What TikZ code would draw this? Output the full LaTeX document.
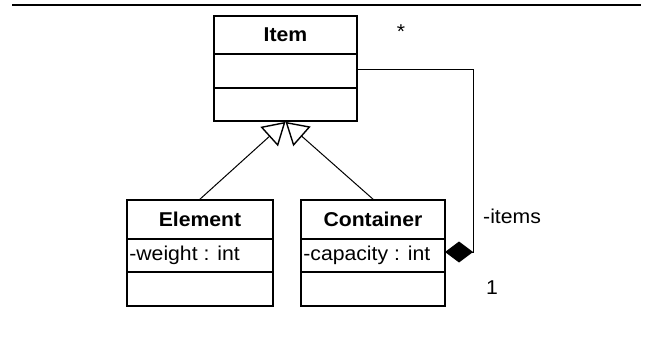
\documentclass[tikz,border=0pt]{standalone}
\usepackage{fontspec}
\setmainfont{Liberation Sans}
\usetikzlibrary{arrows.meta}
\newcommand{\wtxt}[1]{\scalebox{1.06}[1]{#1}}
\tikzset{
  comp/.style={draw=black, line width=1.7pt, rectangle, inner sep=0pt, fill=white},
  clsname/.style={font=\fontsize{20}{23}\selectfont\bfseries},
  txt/.style={font=\fontsize{20}{23}\selectfont, inner sep=0pt},
  gen/.style={line width=1pt, -{Triangle[open, length=22pt, width=26pt, line width=1.4pt]}},
  compo/.style={line width=1pt, -{Diamond[length=28pt, width=21pt]}},
}
\begin{document}
\begin{tikzpicture}[x=1pt, y=-1pt]
\useasboundingbox (0,0) rectangle (651,340);
\draw[line width=2.5pt] (12,5) -- (641,5);

% Item
\node[comp, minimum width=143pt, minimum height=38pt] (itemname) at (285.5,35) {};
\node[comp, minimum width=143pt, minimum height=34pt] (itemattr) at (285.5,71) {};
\node[comp, minimum width=143pt, minimum height=33pt] (itemops) at (285.5,104.5) {};
\node[clsname] (itemlbl) at (itemname.center) {\wtxt{Item}};

% Element
\node[comp, minimum width=146pt, minimum height=39pt] (elemname) at (200,219.5) {};
\node[comp, minimum width=146pt, minimum height=33pt] (elemattr) at (200,255.5) {};
\node[comp, minimum width=146pt, minimum height=34pt] (elemops) at (200,289) {};
\node[clsname] (elemlbl) at (elemname.center) {\wtxt{Element}};
\node[txt, anchor=west] (elemw) at ([xshift=3pt]elemattr.west) {\wtxt{-weight : int}};

% Container
\node[comp, minimum width=144pt, minimum height=39pt] (contname) at (373,219.5) {};
\node[comp, minimum width=144pt, minimum height=33pt] (contattr) at (373,255.5) {};
\node[comp, minimum width=144pt, minimum height=34pt] (contops) at (373,289) {};
\node[clsname] (contlbl) at (contname.center) {\wtxt{Container}};
\node[txt, anchor=west] (contc) at ([xshift=3pt]contattr.west) {\wtxt{-capacity : int}};

% generalizations
\draw[gen] (elemname.north) -- (itemops.south);
\draw[gen] (contname.north) -- (itemops.south);

% composition
\coordinate (bend) at (473,69);
\coordinate (dend) at (445,252);
\draw[compo] (itemattr.east |- bend) -- (bend) |- (dend);

% labels
\node[txt] (star) at (401,32) {\wtxt{*}};
\node[txt, anchor=west] (items) at (483,216) {\wtxt{-items}};
\node[txt, anchor=west] (one) at (486,288) {\wtxt{1}};
\end{tikzpicture}
\end{document}
